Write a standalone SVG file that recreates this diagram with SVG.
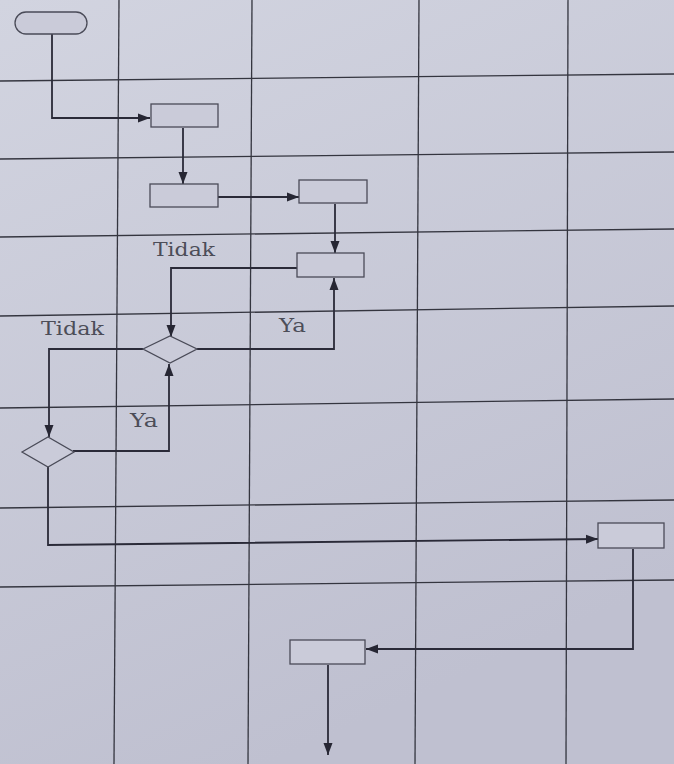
<svg xmlns="http://www.w3.org/2000/svg" width="674" height="764" viewBox="0 0 674 764">
<defs>
<linearGradient id="bg" x1="0" y1="0" x2="0.4" y2="1">
<stop offset="0" stop-color="#d2d4e0"/>
<stop offset="1" stop-color="#bfc0d0"/>
</linearGradient>
<marker id="ah" viewBox="0 0 12 10" refX="12" refY="5" markerWidth="12" markerHeight="10" markerUnits="userSpaceOnUse" orient="auto">
<path d="M0,0.5 L12,5 L0,9.5 Z" fill="#262633"/>
</marker>
<style>
.grid line{stroke:#34353f;stroke-width:1.3}
.box{fill:#cacbd9;stroke:#4a4b58;stroke-width:1.3}
.conn path{fill:none;stroke:#2a2a38;stroke-width:1.8;marker-end:url(#ah)}
.lbl{font-family:"DejaVu Serif","Liberation Serif",serif;font-size:19px;fill:#4c4d58}
</style>
</defs>
<rect width="674" height="764" fill="url(#bg)"/>
<g class="grid">
<line x1="0" y1="81" x2="674" y2="74"/>
<line x1="0" y1="159" x2="674" y2="152"/>
<line x1="0" y1="237" x2="674" y2="229"/>
<line x1="0" y1="316" x2="674" y2="306"/>
<line x1="0" y1="408" x2="674" y2="399"/>
<line x1="0" y1="508" x2="674" y2="500"/>
<line x1="0" y1="587" x2="674" y2="580"/>
<line x1="119" y1="0" x2="114" y2="764"/>
<line x1="252" y1="0" x2="248" y2="764"/>
<line x1="419" y1="0" x2="415" y2="764"/>
<line x1="568" y1="0" x2="566" y2="764"/>
</g>
<g class="conn">
<path d="M52,34 V118 H150"/>
<path d="M183,128 V184"/>
<path d="M218,197 H299"/>
<path d="M335,204 V253"/>
<path d="M297,268 H171 V337"/>
<path d="M197,349 H334 V278"/>
<path d="M143,349 H49 V437"/>
<path d="M73,451 H169 V364"/>
<path d="M48,467 V545 L598,539"/>
<path d="M633,549 V649 H366"/>
<path d="M328,665 V755"/>
</g>
<g id="start"><rect class="box" x="15" y="12" width="72" height="22" rx="11"/></g>
<g id="box1"><rect class="box" x="151" y="104" width="67" height="23"/></g>
<g id="box2"><rect class="box" x="150" y="184" width="68" height="23"/></g>
<g id="box3"><rect class="box" x="299" y="180" width="68" height="23"/></g>
<g id="box4"><rect class="box" x="297" y="253" width="67" height="24"/></g>
<g id="dec1"><polygon class="box" points="143,349 170,336 197,349 170,363"/></g>
<g id="dec2"><polygon class="box" points="22,452 48,437 74,452 48,467"/></g>
<g id="box5"><rect class="box" x="598" y="523" width="66" height="25"/></g>
<g id="box6"><rect class="box" x="290" y="640" width="75" height="24"/></g>
<g id="labels">
<text class="lbl" x="153" y="256" textLength="62" lengthAdjust="spacingAndGlyphs">Tidak</text>
<text class="lbl" x="41" y="335" textLength="63" lengthAdjust="spacingAndGlyphs">Tidak</text>
<text class="lbl" x="279" y="332" textLength="27" lengthAdjust="spacingAndGlyphs">Ya</text>
<text class="lbl" x="130" y="427" textLength="28" lengthAdjust="spacingAndGlyphs">Ya</text>
</g>
</svg>
